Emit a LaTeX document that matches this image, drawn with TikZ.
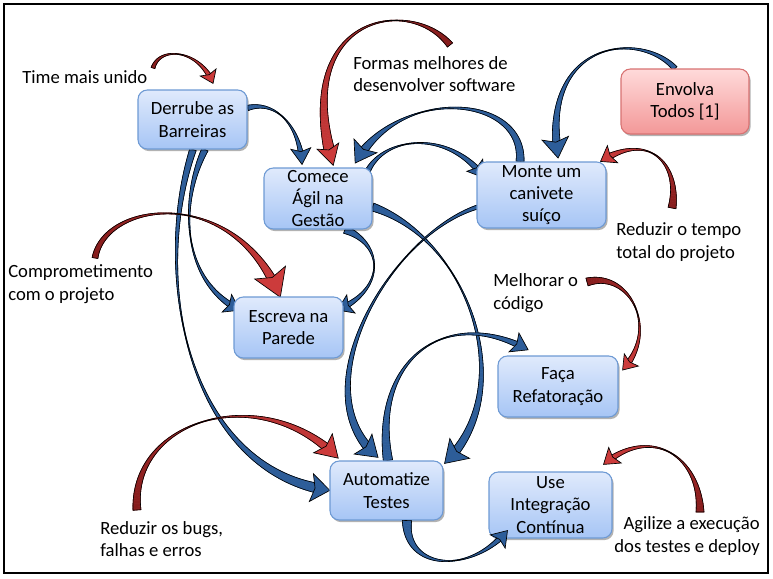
\documentclass[tikz,border=0pt]{standalone}
\usepackage{fontspec}
\setmainfont{Carlito}
\usetikzlibrary{calc,decorations.markings,shadows}
\definecolor{boxtop}{HTML}{E0EAFC}
\definecolor{boxbot}{HTML}{A6C5F5}
\definecolor{boxline}{HTML}{6E9AD4}
\definecolor{rboxtop}{HTML}{FFDADA}
\definecolor{rboxbot}{HTML}{F39898}
\definecolor{rboxline}{HTML}{D87272}
\definecolor{arrblue}{HTML}{2D5D99}
\definecolor{redtail}{HTML}{861C1C}
\definecolor{redhead}{HTML}{CC3B3B}
\pgfdeclarelayer{bg}
\pgfsetlayers{bg,main}
\newcount\zRn
\newcommand\zRcalc[3]{%
  \pgfmathsetmacro\zRt{\pgfkeysvalueof{/pgf/decoration/mark info/distance from start}/\pgfdecoratedpathlength}%
  \pgfmathsetmacro\zRs{min(1,abs(\zRt-#2)/((\zRt<#2) ? #2 : (1-#2)))}%
  \pgfmathsetmacro\zRq{(\zRt<#2) ? #1 : #3}%
  \pgfmathsetmacro\zRr{0.3+(\zRq-0.3)*\zRs*sqrt(\zRs)}%
}
\newcommand\zRmark[3]{%
  \zRcalc{#1}{#2}{#3}%
  \pgfmathtruncatemacro\zRp{100*\zRt}%
  \pgfpointtransformed{\pgfqpoint{0pt}{\zRr pt}}\pgfgetlastxy\zRxa\zRya
  \pgfpointtransformed{\pgfqpoint{0pt}{-\zRr pt}}\pgfgetlastxy\zRxb\zRyb
  \global\advance\zRn by 1
  \ifnum\zRn=1
    \xdef\zRS{\noexpand\pgfpathmoveto{\noexpand\pgfqpoint{\zRxa}{\zRya}}}%
    \xdef\zRR{\noexpand\pgfpathlineto{\noexpand\pgfqpoint{\zRxb}{\zRyb}}}%
  \else
    \xdef\zRL{\unexpanded\expandafter{\zRL}\noexpand\pgfpathlineto{\noexpand\pgfqpoint{\zRxa}{\zRya}}}%
    \xdef\zRR{\noexpand\pgfpathlineto{\noexpand\pgfqpoint{\zRxb}{\zRyb}}\unexpanded\expandafter{\zRR}}%
    \xdef\zRQ{\unexpanded\expandafter{\zRQ}\noexpand\zRquad{\zRp}{\zRpa}{\zRpb}{\zRxa}{\zRya}{\zRxb}{\zRyb}{\zRpc}{\zRpd}}%
  \fi
  \xdef\zRpa{\zRxa}\xdef\zRpb{\zRya}\xdef\zRpc{\zRxb}\xdef\zRpd{\zRyb}%
}
% arrow head, computed 2pt before the end of the path
\newcommand\zRhead[2]{%
  \pgfmathsetmacro\zRhl{-#1+2}\pgfmathsetmacro\zRhw{#2/2}\pgfmathsetmacro\zRhi{-#1*0.8+2}%
  \pgfpointtransformed{\pgfqpoint{2pt}{0pt}}\pgfgetlastxy\zRha\zRhb
  \pgfpointtransformed{\pgfqpoint{\zRhl pt}{\zRhw pt}}\pgfgetlastxy\zRhc\zRhd
  \pgfpointtransformed{\pgfqpoint{\zRhi pt}{0pt}}\pgfgetlastxy\zRhe\zRhf
  \pgfpointtransformed{\pgfqpoint{\zRhl pt}{-\zRhw pt}}\pgfgetlastxy\zRhg\zRhh
  \xdef\zRH{\noexpand\pgfpathmoveto{\noexpand\pgfqpoint{\zRha}{\zRhb}}%
    \noexpand\pgfpathlineto{\noexpand\pgfqpoint{\zRhc}{\zRhd}}%
    \noexpand\pgfpathlineto{\noexpand\pgfqpoint{\zRhe}{\zRhf}}%
    \noexpand\pgfpathlineto{\noexpand\pgfqpoint{\zRhg}{\zRhh}}\noexpand\pgfpathclose}%
}
\newcommand\zRquad[9]{%
  \begin{pgfscope}%
  \pgfsetcolor{\zRcB!#1!\zRcA}%
  \pgfsetlinewidth{0.4pt}%
  \pgfpathmoveto{\pgfqpoint{#2}{#3}}\pgfpathlineto{\pgfqpoint{#4}{#5}}%
  \pgfpathlineto{\pgfqpoint{#6}{#7}}\pgfpathlineto{\pgfqpoint{#8}{#9}}\pgfpathclose
  \pgfusepath{fill,stroke}%
  \end{pgfscope}}
% #1 tail colour, #2 head colour, #3 r0, #4 pinch, #5 r1, #6 head length, #7 head width, #8 start, #9 rest of path
\newcommand\zRib[9]{%
  \xdef\zRcA{#1}\xdef\zRcB{#2}%
  \gdef\zRL{}\gdef\zRR{}\gdef\zRQ{}\gdef\zRS{}\gdef\zRH{}\global\zRn=0
  \path[decorate,decoration={markings,
    mark=between positions 0 and -#6*0.5pt step 1.2pt with {\zRmark{#3}{#4}{#5}},
    mark=at position -2pt with {\zRhead{#6}{#7}}}] (#8) #9;
  \zRQ
  \begin{pgfscope}\pgfsetlinewidth{0.45pt}\pgfsetstrokecolor{black}\pgfsetroundjoin
  \zRS\zRL\zRR\pgfpathclose\pgfusepath{stroke}\end{pgfscope}%
  \begin{pgfscope}\pgfsetfillcolor{#2}\pgfsetstrokecolor{black}\pgfsetlinewidth{0.5pt}\pgfsetmiterjoin
  \zRH\pgfusepath{fill,stroke}\end{pgfscope}%
}
\newcommand\zBlue[7]{\zRib{arrblue}{arrblue}{#1}{#2}{#3}{#4}{#5}{#6}{#7}}
\newcommand\zRed[7]{\zRib{redtail}{redhead}{#1}{#2}{#3}{#4}{#5}{#6}{#7}}
\tikzset{
  box/.style={rounded corners=7pt, draw=boxline, line width=0.8pt, top color=boxtop, bottom color=boxbot,
    align=center, inner sep=0pt, drop shadow={shadow xshift=1.2pt, shadow yshift=-1.6pt, opacity=0.3, fill=black}},
  rbox/.style={box, draw=rboxline, top color=rboxtop, bottom color=rboxbot},
  size/.style 2 args={minimum width=#1*0.75pt, minimum height=#2*0.75pt},
  lbl/.style={inner sep=0pt, align=left, anchor=west}
}
\begin{document}
\begin{tikzpicture}[x=0.75pt,y=-0.75pt,font=\fontsize{14}{16.8}\selectfont]
\useasboundingbox (0,0) rectangle (773,578);
\begin{pgfonlayer}{bg}
\fill[white] (0,0) rectangle (773,578);
\end{pgfonlayer}
\draw[line width=1.1pt] (4,4) rectangle (768,573);

% boxes
\node[box,size={109}{59}] (derrube) at (192.5,119.5) {Derrube as\\Barreiras};
\node[box,size={108}{61}] (comece) at (318,198.5) {Comece\\Ágil na\\Gestão};
\node[box,size={129}{66}] (monte) at (541.5,195) {Monte um\\canivete\\suíço};
\node[rbox,size={128}{65}] (envolva) at (685,101.5) {Envolva\\Todos [1]};
\node[box,size={109}{61}] (escreva) at (288.5,327.5) {Escreva na\\Parede};
\node[box,size={120}{61}] (faca) at (558,386.5) {Faça\\Refatoração};
\node[box,size={113}{59}] (autom) at (386.5,490.5) {Automatize\\Testes};
\node[box,size={123}{66}] (use) at (550.5,505) {Use\\Integração\\Contínua};

% labels
\node[lbl] (time) at (22,77) {Time mais unido};
\node[lbl] (formas) at (353,74) {Formas melhores de\\desenvolver software};
\node[lbl] (compro) at (8,284) {Comprometimento\\com o projeto};
\node[lbl] (reduz) at (616,242) {Reduzir o tempo\\total do projeto};
\node[lbl] (melhor) at (493,293) {Melhorar o\\código};
\node[lbl] (bugs) at (100,539) {Reduzir os bugs,\\falhas e erros};
\node[inner sep=0pt, align=right, anchor=east] (agil) at (760,536) {Agilize a execução\\dos testes e deploy};

% attachment points
\coordinate (b1s) at ($(derrube.east)+(0,-11.5)$);
\coordinate (b1e) at ($(comece.north)+(-16,-3)$);
\coordinate (b2s) at ($(monte.north)+(-21.5,0)$);
\coordinate (b2e) at ($(comece.north east)+(-17,-5)$);
\coordinate (b3s) at ($(comece.north east)+(-5,4)$);
\coordinate (b3e) at ($(monte.west)+(8,-17)$);
\coordinate (b4s) at ($(envolva.north)+(-10,0)$);
\coordinate (b4e) at ($(monte.north)+(16.5,-4)$);
\coordinate (b5s) at ($(derrube.south)+(12.5,0)$);
\coordinate (b5e) at ($(escreva.west)+(6,-17.5)$);
\coordinate (b6s) at ($(derrube.south)+(0.5,0)$);
\coordinate (b6e) at ($(autom.west)+(-2,-0.5)$);
\coordinate (b7s) at ($(comece.south)+(27,0)$);
\coordinate (b7e) at ($(escreva.east)+(-6,-17.5)$);
\coordinate (b8s) at ($(comece.east)+(0,8.5)$);
\coordinate (b8e) at ($(autom.north east)+(2,2)$);
\coordinate (b9s) at ($(monte.west)+(1,12)$);
\coordinate (b9e) at ($(autom.north)+(-9.5,-4)$);
\coordinate (b10s) at ($(autom.north)+(1.5,0)$);
\coordinate (b10e) at ($(faca.north west)+(30,-6)$);
\coordinate (b11s) at ($(autom.south)+(20.5,0)$);
\coordinate (b11e) at ($(use.south west)+(19,-8)$);
\coordinate (r1s) at ($(time.west)+(131,-9)$);
\coordinate (r1e) at ($(derrube.north)+(20.5,-6)$);
\coordinate (r2s) at ($(formas.west)+(97,-29)$);
\coordinate (r2e) at ($(comece.north)+(15,-3)$);
\coordinate (r3s) at ($(compro.west)+(87,-26)$);
\coordinate (r3e) at ($(escreva.north)+(-8.5,0)$);
\coordinate (r4s) at ($(reduz.west)+(56,-34)$);
\coordinate (r4e) at ($(monte.north east)+(-6,0)$);
\coordinate (r5s) at ($(melhor.west)+(94,-11)$);
\coordinate (r5e) at ($(faca.east)+(4,-16.5)$);
\coordinate (r6s) at ($(bugs.west)+(37,-29)$);
\coordinate (r6e) at ($(autom.north west)+(8,-3)$);
\coordinate (r7s) at ($(agil.east)+(-60,-24)$);
\coordinate (r7e) at ($(use.north east)+(-9,-7)$);

\begin{pgfonlayer}{bg}
% blue arrows
\zBlue{2}{0.4}{2.5}{12}{15}{b1s}{.. controls (275,100) and (300,125) .. (b1e)}
\zBlue{3}{0.6}{4}{15}{20}{b2s}{.. controls (525,95) and (400,85) .. (b2e)}
\zBlue{2}{0.35}{2.5}{12}{15}{b3s}{.. controls (385,135) and (450,130) .. (b3e)}
\zBlue{2}{0.35}{3.5}{15}{20}{b4s}{.. controls (640,30) and (540,40) .. (b4e)}
\zBlue{2.5}{0.5}{2.5}{11}{15}{b5s}{.. controls (180,200) and (180,280) .. (b5e)}
\zBlue{2.5}{0.45}{4}{14}{21}{b6s}{.. controls (150,280) and (190,470) .. (b6e)}
\zBlue{3}{0.45}{2.5}{11}{15}{b7s}{.. controls (385,245) and (385,290) .. (b7e)}
\zBlue{3}{0.32}{3.5}{16}{21}{b8s}{.. controls (470,240) and (520,390) .. (b8e)}
\zBlue{1.5}{0.28}{3.5}{15}{20}{b9s}{.. controls (390,235) and (300,390) .. (b9e)}
\zBlue{3.5}{0.6}{2.5}{12}{16}{b10s}{.. controls (372,360) and (445,305) .. (b10e)}
% red arrows
\zRed{1.5}{0.4}{2.2}{9}{13}{r1s}{.. controls (160,45) and (200,50) .. (r1e)}
\zRed{2.5}{0.25}{4.5}{15}{17}{r2s}{.. controls (410,-5) and (290,15) .. (r2e)}
\zRed{2.2}{0.45}{4}{20}{25}{r3s}{.. controls (105,200) and (235,185) .. (r3e)}
\zRed{3}{0.55}{3}{10.5}{15}{r4s}{.. controls (680,165) and (650,130) .. (r4e)}
\zRed{3}{0.5}{2.5}{10}{14}{r5s}{.. controls (630,270) and (660,330) .. (r5e)}
\zRed{3}{0.45}{3.5}{16}{20}{r6s}{.. controls (130,420) and (260,380) .. (r6e)}
\zRed{3}{0.5}{2.5}{11}{15}{r7s}{.. controls (700,455) and (650,425) .. (r7e)}
\end{pgfonlayer}
% arrow over the box
\zBlue{3.5}{0.55}{2.5}{11}{15}{b11s}{.. controls (405,570) and (470,575) .. (b11e)}
\end{tikzpicture}
\end{document}
